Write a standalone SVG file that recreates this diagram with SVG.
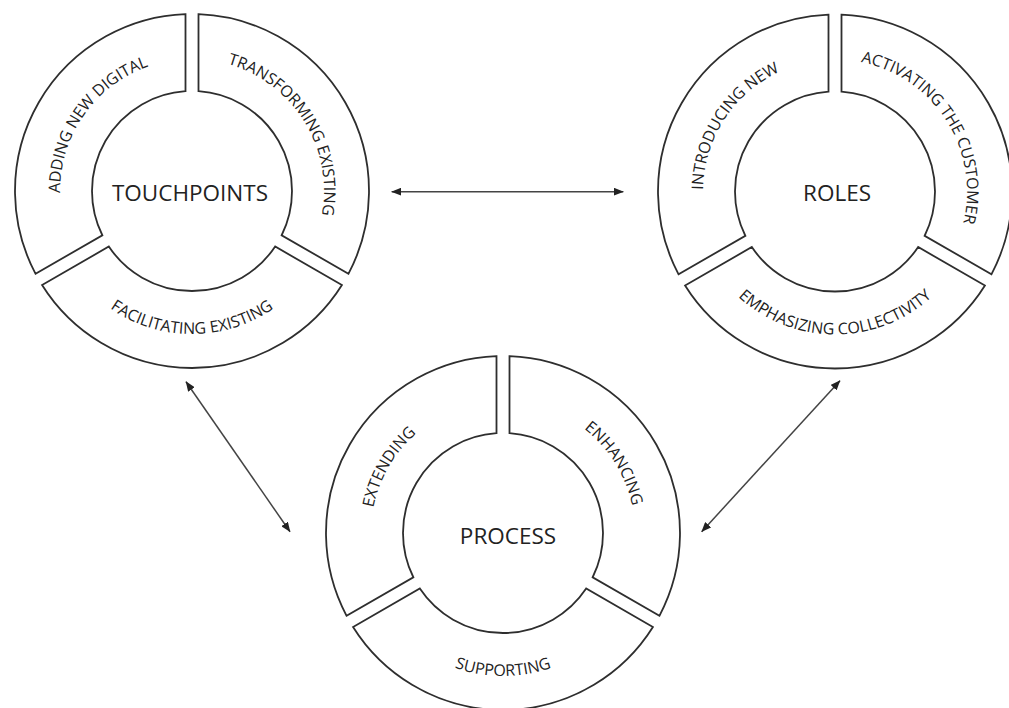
<svg xmlns="http://www.w3.org/2000/svg" xmlns:xlink="http://www.w3.org/1999/xlink" width="1009" height="708" viewBox="0 0 1009 708">
<style>
.seg{fill:#fff;stroke:#2e2e2e;stroke-width:1.8;stroke-linejoin:miter}
.lbl{font-family:"Open Sans","Liberation Sans",sans-serif;font-size:16px;fill:#222}
.ttl{font-family:"Open Sans","Liberation Sans",sans-serif;font-size:22.5px;fill:#222;text-anchor:middle;dominant-baseline:central}
.conn{fill:none;stroke:#444;stroke-width:1.5;marker-start:url(#ah);marker-end:url(#ah)}
</style>
<defs>
<marker id="ah" viewBox="0 0 10 8" markerWidth="10" markerHeight="8" refX="9.5" refY="4" orient="auto-start-reverse" markerUnits="userSpaceOnUse">
<path d="M0,0 L10,4 L0,8 z" fill="#222"/>
</marker>
<path id="segA" d="M-156.43 82.81 A177 177 0 0 1 -6.5 -176.88 L-6.5 -99.79 A100 100 0 0 0 -89.67 44.27 Z"/>
<path id="segB" d="M6.5 -176.88 A177 177 0 0 1 156.43 82.81 L89.67 44.27 A100 100 0 0 0 6.5 -99.79 Z"/>
<path id="segC" d="M149.93 94.07 A177 177 0 0 1 -149.93 94.07 L-83.17 55.53 A100 100 0 0 0 83.17 55.53 Z"/>
<path id="arcTpAdd" d="M-108.13 75.71 A132 132 0 0 1 34.16 -127.50"/>
<path id="arcR328" d="M-27.44 -129.11 A132 132 0 0 1 104.02 81.27"/>
<path id="arcRoIn" d="M-105.42 79.44 A132 132 0 0 1 29.70 -128.62"/>
<path id="arcRoAct" d="M-28.57 -128.87 A132 132 0 0 1 104.73 80.36"/>
<path id="arcPrExt" d="M-101.12 84.85 A132 132 0 0 1 22.92 -130.00"/>
<path id="arcBot" d="M-134.38 48.91 A143 143 0 0 0 134.38 48.91"/>
</defs>
<rect width="1009" height="708" fill="#fff"/>
<g id="connectors">
<path class="conn" d="M391.7 191.7 L623.3 191.7"/>
<path class="conn" d="M186 381.7 L290 531.7"/>
<path class="conn" d="M840 380.7 L701.7 531.7"/>
</g>
<g id="touchpoints" transform="translate(192 191)">
<use href="#segA" class="seg"/>
<use href="#segB" class="seg"/>
<use href="#segC" class="seg"/>
<text class="ttl" x="-2" y="1">TOUCHPOINTS</text>
<text class="lbl"><textPath href="#arcTpAdd" startOffset="50%" text-anchor="middle">ADDING NEW DIGITAL</textPath></text>
<text class="lbl"><textPath href="#arcR328" startOffset="50%" text-anchor="middle">TRANSFORMING EXISTING</textPath></text>
<text class="lbl"><textPath href="#arcBot" startOffset="50%" text-anchor="middle">FACILITATING EXISTING</textPath></text>
</g>
<g id="roles" transform="translate(835 191.5)">
<use href="#segA" class="seg"/>
<use href="#segB" class="seg"/>
<use href="#segC" class="seg"/>
<text class="ttl" x="2" y="1">ROLES</text>
<text class="lbl"><textPath href="#arcRoIn" startOffset="50%" text-anchor="middle">INTRODUCING NEW</textPath></text>
<text class="lbl"><textPath href="#arcRoAct" startOffset="50%" text-anchor="middle">ACTIVATING THE CUSTOMER</textPath></text>
<text class="lbl"><textPath href="#arcBot" startOffset="50%" text-anchor="middle">EMPHASIZING COLLECTIVITY</textPath></text>
</g>
<g id="process" transform="translate(503 533)">
<use href="#segA" class="seg"/>
<use href="#segB" class="seg"/>
<use href="#segC" class="seg"/>
<text class="ttl" x="5" y="2">PROCESS</text>
<text class="lbl"><textPath href="#arcPrExt" startOffset="50%" text-anchor="middle">EXTENDING</textPath></text>
<text class="lbl"><textPath href="#arcR328" startOffset="50%" text-anchor="middle">ENHANCING</textPath></text>
<text class="lbl"><textPath href="#arcBot" startOffset="50%" text-anchor="middle">SUPPORTING</textPath></text>
</g>
</svg>
